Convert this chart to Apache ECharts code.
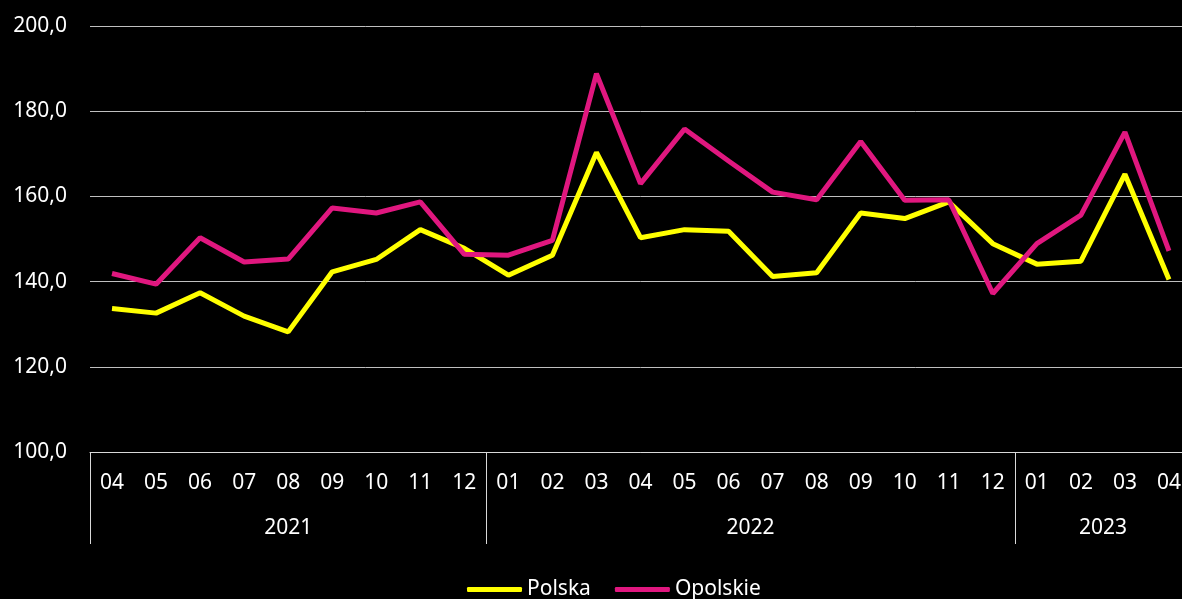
<!DOCTYPE html>
<html>
<head>
<meta charset="utf-8">
<script src="https://cdn.jsdelivr.net/npm/echarts@6/dist/echarts.min.js"></script>
<style>
  html, body { margin: 0; padding: 0; background: #000; overflow: hidden; }
  /* wykres szerszy niż okno: ostatni miesiąc jest ucięty jak w oryginale */
  #chart { width: 1194px; height: 599px; }
</style>
</head>
<body>
<div id="chart"></div>
<script>
// miesiące (oś X) i lata pod nimi
var months = ['04', '05', '06', '07', '08', '09', '10', '11', '12',
    '01', '02', '03', '04', '05', '06', '07', '08', '09', '10', '11', '12',
    '01', '02', '03', '04'];
var years = ['2021', '2022', '2023'];
var monthsPerYear = [9, 12, 4];

var polska = [133.7, 132.6, 137.4, 131.9, 128.2, 142.3, 145.2, 152.2, 147.8,
    141.5, 146.2, 170.3, 150.3, 152.2, 151.8, 141.2, 142.1, 156.1, 154.8, 158.7, 148.9,
    144.1, 144.8, 165.2, 140.5];
var opolskie = [141.9, 139.4, 150.3, 144.6, 145.3, 157.3, 156.1, 158.7, 146.4,
    146.2, 149.7, 188.8, 163.0, 175.8, 168.3, 161.0, 159.2, 172.9, 159.1, 159.2, 137.2,
    148.9, 155.6, 175.1, 147.2];

var yMin = 100, yMax = 200, yStep = 20;

// druga oś (lata): pół-kroki, żeby podpis roku wypadał na środku grupy
var halfAxis = [];
for (var i = 0; i <= months.length * 2; i++) halfAxis.push('');
var boundaries = [0];
var start = 0;
for (var k = 0; k < years.length; k++) {
    halfAxis[start * 2 + monthsPerYear[k]] = years[k];
    start += monthsPerYear[k];
    boundaries.push(start * 2);
}

var font = 'Noto Sans';
var myChart = echarts.init(document.getElementById('chart'));

var option = {
    backgroundColor: '#000',
    animation: false,
    grid: { left: 90, right: 0, top: 26, bottom: 147 },
    legend: {
        left: 462,
        top: 574,
        icon: 'roundRect',
        itemWidth: 55,
        itemHeight: 5,
        itemGap: 24,
        textStyle: { color: '#fff', fontFamily: font, fontSize: 21 },
        data: ['Polska', 'Opolskie']
    },
    xAxis: [
        {
            type: 'category',
            data: months,
            boundaryGap: true,
            axisLine: { show: true, lineStyle: { color: '#d9d9d9', width: 1 } },
            axisTick: { show: false },
            axisLabel: { color: '#fff', fontFamily: font, fontSize: 21, margin: 20, lineHeight: 22, interval: 0 }
        },
        {
            type: 'category',
            data: halfAxis,
            boundaryGap: false,
            position: 'bottom',
            axisLine: { show: false },
            axisTick: {
                show: true,
                length: 92,
                lineStyle: { color: '#d9d9d9', width: 1 },
                interval: function (index) { return boundaries.indexOf(index) >= 0; }
            },
            axisLabel: { color: '#fff', fontFamily: font, fontSize: 21, margin: 65, lineHeight: 22, interval: 0 }
        }
    ],
    yAxis: {
        type: 'value',
        min: yMin,
        max: yMax,
        interval: yStep,
        axisLine: { show: false },
        axisTick: { show: false },
        splitLine: { lineStyle: { color: '#bfbfbf', width: 1 } },
        axisLabel: {
            color: '#fff',
            fontFamily: font,
            fontSize: 21,
            margin: 23,
            formatter: function (v) { return v.toFixed(1).replace('.', ','); }
        }
    },
    series: [
        {
            name: 'Polska',
            type: 'line',
            data: polska,
            symbol: 'none',
            lineStyle: { color: '#ffff00', width: 5 },
            itemStyle: { color: '#ffff00' }
        },
        {
            name: 'Opolskie',
            type: 'line',
            data: opolskie,
            symbol: 'none',
            lineStyle: { color: '#e0177f', width: 5 },
            itemStyle: { color: '#e0177f' }
        }
    ]
};

myChart.setOption(option);
</script>
</body>
</html>
